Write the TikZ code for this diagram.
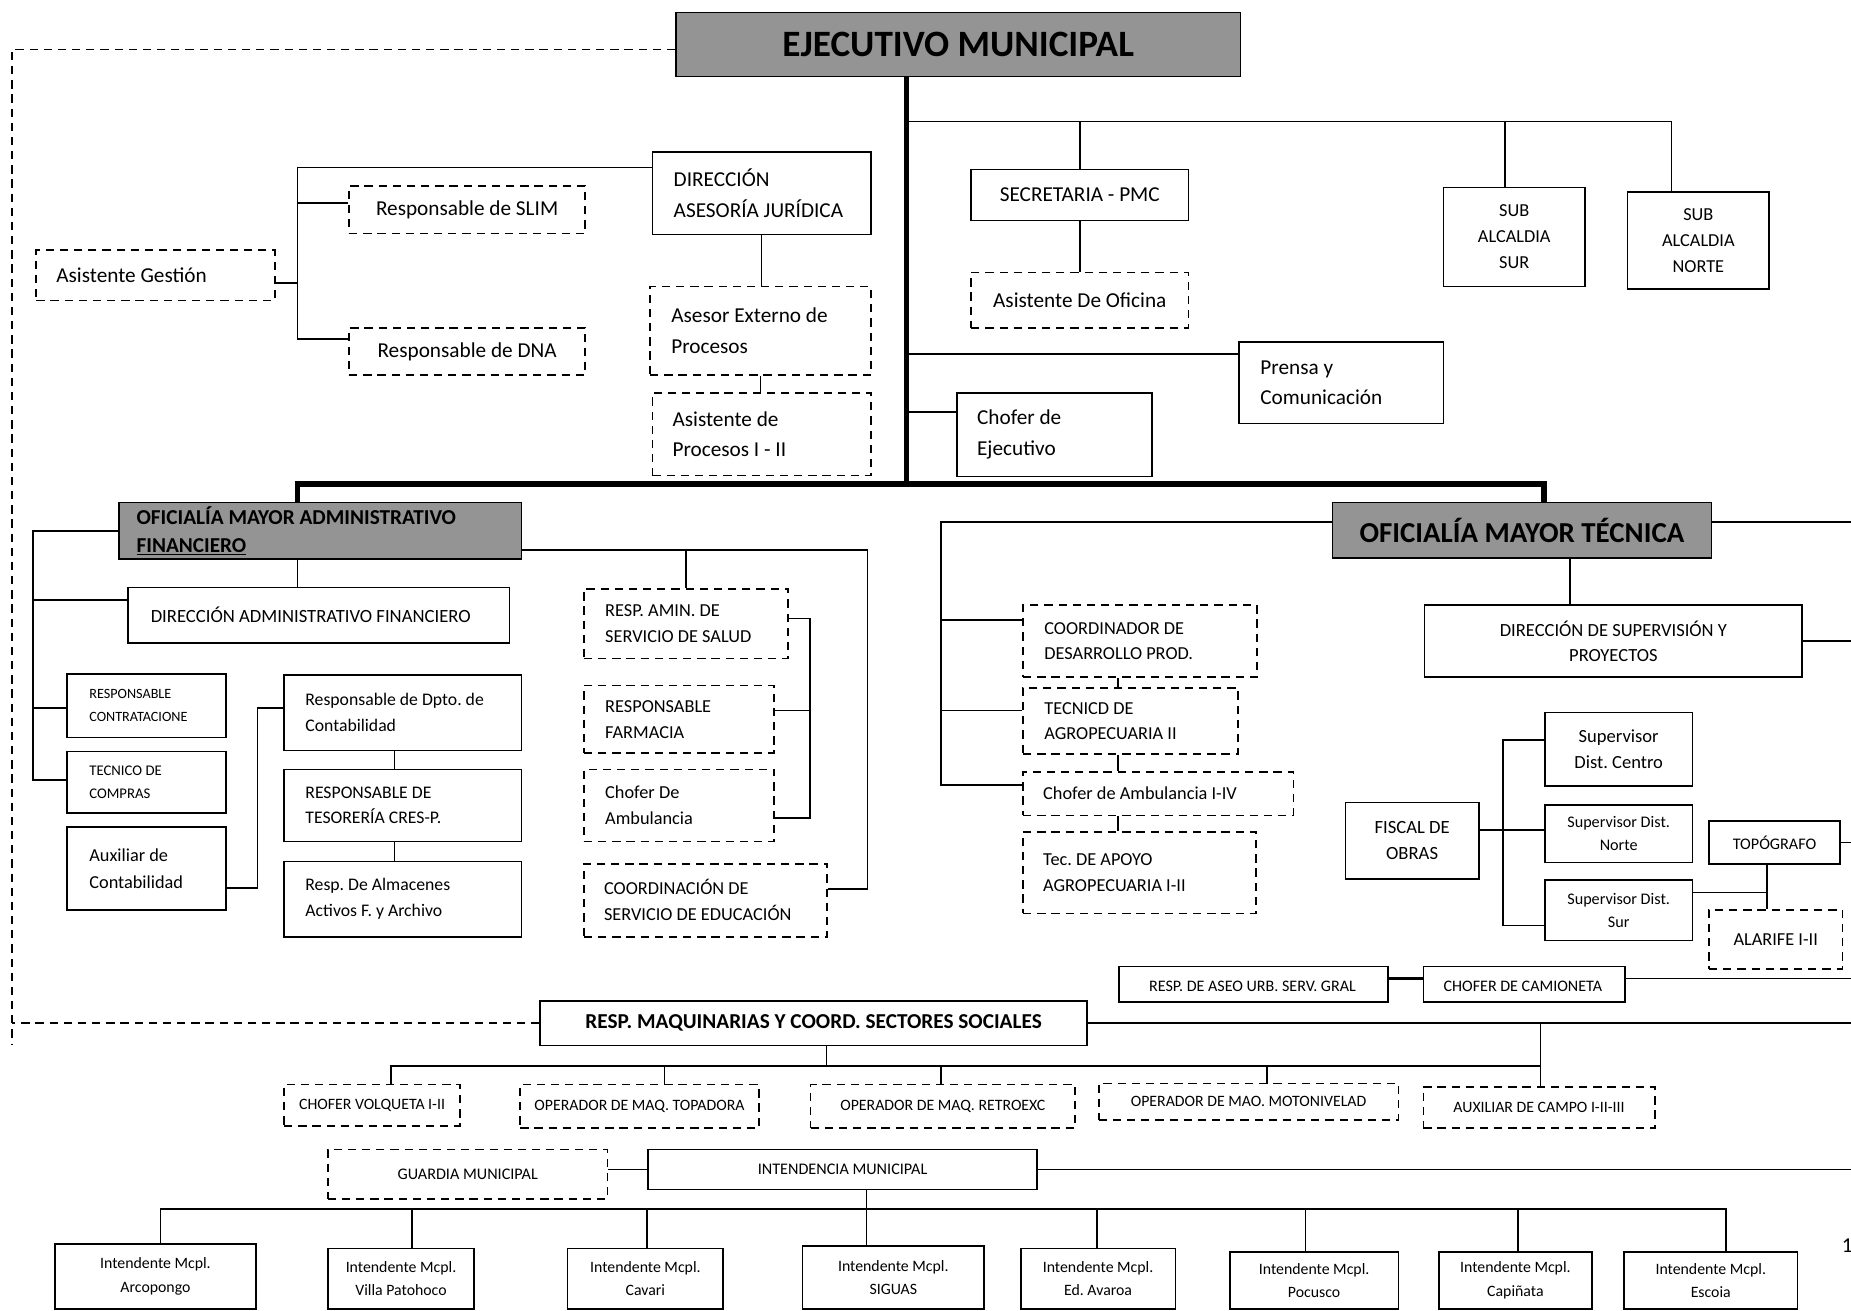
\documentclass[tikz,border=0pt]{standalone}
\usepackage{fontspec}
\setmainfont{Carlito}
\usetikzlibrary{calc}
\newcommand\fsz[2]{\fontsize{#1}{#2}\selectfont}
\newcommand\bxn[7]{\pgfmathsetmacro\bw{#5-#3}\pgfmathsetmacro\bh{#6-#4}%
\node[#1, minimum width=\bw pt, minimum height=\bh pt, anchor=north west] (#2) at (#3,#4) {#7};}
\tikzset{
 bx/.style={draw, line width=1.4pt, inner sep=0pt, align=center},
 dbx/.style={bx, dash pattern=on 7pt off 5pt},
 gbx/.style={bx, fill=black!42},
 lt/.code={\pgfmathsetmacro\tw{\bw-2*#1}\tikzset{inner xsep=#1pt, text width=\tw pt, align=flush left}},
 cn/.style={line width=1.4pt},
 mainln/.style={line width=4.5pt},
 dline/.style={line width=1.4pt, dash pattern=on 7pt off 5pt},
}
\begin{document}
\frenchspacing
\begin{tikzpicture}[x=1pt,y=-1pt]
\useasboundingbox (0,0) rectangle (1568,1110);
\fill[white] (0,0) rectangle (1568,1110);
% ---------- boxes ----------
\bxn{gbx, font=\fsz{31.5}{34}\bfseries}{eje}{572}{10}{1050}{64}{EJECUTIVO MUNICIPAL}
\bxn{bx, lt=18, font=\fsz{18}{26}}{dirj}{552}{128}{737}{198}{DIRECCIÓN\\ASESORÍA JURÍDICA}
\bxn{dbx, font=\fsz{18}{20}}{slim}{295}{157}{495}{197}{Responsable de SLIM}
\bxn{dbx, lt=17, font=\fsz{18}{20}}{ag}{30}{211}{232}{254}{Asistente Gestión}
\bxn{dbx, font=\fsz{18}{20}}{dna}{295}{277}{495}{317}{Responsable de DNA}
\bxn{dbx, lt=18, font=\fsz{18}{26}}{aext}{550}{242}{737}{317}{Asesor Externo de\\Procesos}
\bxn{dbx, lt=17, font=\fsz{18}{26}}{apro}{552}{332}{737}{402}{Asistente de\\Procesos I - II}
\bxn{bx, font=\fsz{18}{20}}{sec}{822}{143}{1006}{186}{SECRETARIA - PMC}
\bxn{dbx, font=\fsz{18}{20}}{aof}{822}{230}{1006}{277}{Asistente De Oficina}
\bxn{bx, font=\fsz{15.5}{22}}{sals}{1222}{158}{1342}{242}{SUB\\ALCALDIA\\SUR}
\bxn{bx, font=\fsz{15.5}{22}}{saln}{1378}{162}{1498}{244}{SUB\\ALCALDIA\\NORTE}
\bxn{bx, lt=18, font=\fsz{18}{26}}{prensa}{1049}{289}{1222}{358}{Prensa y\\Comunicación}
\bxn{bx, lt=17, font=\fsz{18}{26}}{chej}{810}{332}{975}{403}{Chofer de\\Ejecutivo}
\bxn{gbx, lt=15, font=\fsz{18}{23}\bfseries}{omaf}{100}{425}{441}{473}{OFICIALÍA MAYOR ADMINISTRATIVO\\\underline{FINANCIERO}}
\bxn{bx, lt=19, font=\fsz{15.8}{18}}{daf}{108}{497}{431}{544}{DIRECCIÓN ADMINISTRATIVO FINANCIERO}
\bxn{bx, lt=19, font=\fsz{12}{19}}{rc}{56}{570}{191}{624}{RESPONSABLE\\CONTRATACIONE}
\bxn{bx, lt=19, font=\fsz{12.5}{19}}{tc}{56}{636}{191}{688}{TECNICO DE\\COMPRAS}
\bxn{bx, lt=19, font=\fsz{15.5}{23}}{aux}{56}{700}{191}{770}{Auxiliar de\\Contabilidad}
\bxn{bx, lt=18, font=\fsz{15}{22}}{dp}{240}{571}{441}{635}{Responsable de Dpto. de\\Contabilidad}
\bxn{bx, lt=18, font=\fsz{15}{22}}{tes}{240}{651}{441}{712}{RESPONSABLE DE\\TESORERÍA CRES-P.}
\bxn{bx, lt=18, font=\fsz{15}{22}}{alm}{240}{729}{441}{793}{Resp. De Almacenes\\Activos F. y Archivo}
\bxn{dbx, lt=18, font=\fsz{15.5}{22}}{rsal}{494}{498}{667}{557}{RESP. AMIN. DE\\SERVICIO DE SALUD}
\bxn{dbx, lt=18, font=\fsz{15.5}{22}}{far}{494}{580}{655}{637}{RESPONSABLE\\FARMACIA}
\bxn{dbx, lt=18, font=\fsz{15.5}{22}}{cha}{494}{651}{655}{712}{Chofer De\\Ambulancia}
\bxn{dbx, lt=17, font=\fsz{15.5}{22}}{coe}{494}{731}{700}{793}{COORDINACIÓN DE\\SERVICIO DE EDUCACIÓN}
\bxn{gbx, font=\fsz{24.5}{28}\bfseries}{omt}{1128}{425}{1449}{472}{OFICIALÍA MAYOR TÉCNICA}
\bxn{dbx, lt=18, font=\fsz{15.5}{21}}{cdp}{866}{512}{1064}{573}{COORDINADOR DE\\DESARROLLO PROD.}
\bxn{dbx, lt=18, font=\fsz{15.5}{21}}{tag}{866}{582}{1048}{638}{TECNICD DE\\AGROPECUARIA II}
\bxn{dbx, lt=17, font=\fsz{15.5}{21}}{chai}{866}{653}{1095}{690}{Chofer de Ambulancia I-IV}
\bxn{dbx, lt=17, font=\fsz{15.5}{22}}{tap}{866}{704}{1063}{773}{Tec. DE APOYO\\AGROPECUARIA I-II}
\bxn{bx, font=\fsz{15.7}{21}}{dsp}{1206}{512}{1526}{573}{DIRECCIÓN DE SUPERVISIÓN Y\\PROYECTOS}
\bxn{bx, font=\fsz{15.7}{22}}{sc}{1308}{603}{1433}{665}{Supervisor\\Dist. Centro}
\bxn{bx, font=\fsz{13.7}{19}}{sn}{1308}{681}{1433}{730}{Supervisor Dist.\\Norte}
\bxn{bx, font=\fsz{13.7}{19}}{ss}{1308}{745}{1433}{796}{Supervisor Dist.\\Sur}
\bxn{bx, font=\fsz{15.8}{22}}{fo}{1139}{679}{1252}{744}{FISCAL DE\\OBRAS}
\bxn{bx, font=\fsz{13.7}{16}}{topo}{1447}{695}{1558}{731}{TOPÓGRAFO}
\bxn{dbx, font=\fsz{15.5}{16}}{alar}{1447}{770}{1560}{820}{ALARIFE I-II}
\bxn{bx}{aseo}{947}{818}{1175}{848}{}
\bxn{bx}{cam}{1205}{818}{1376}{848}{}
\begin{scope}
\clip (947,818) rectangle (1376,840);
\node[font=\fsz{13.6}{14}, anchor=base] (aseot) at (1061,840) {RESP. DE ASEO URB. SERV. GRAL};
\node[font=\fsz{13.6}{14}, anchor=base] (camt) at (1290,840) {CHOFER DE CAMIONETA};
\end{scope}
\bxn{bx, font=\fsz{18}{20}\bfseries}{rmq}{457}{847}{920}{885}{RESP. MAQUINARIAS Y COORD. SECTORES SOCIALES}
\bxn{dbx, font=\fsz{13.4}{14}}{cvq}{240}{918}{389}{953}{CHOFER VOLQUETA I-II}
\bxn{dbx, font=\fsz{13.4}{14}}{otp}{440}{918}{642}{955}{OPERADOR DE MAQ. TOPADORA}
\bxn{dbx, font=\fsz{13.4}{14}}{ort}{686}{918}{910}{955}{OPERADOR DE MAQ. RETROEXC}
\bxn{dbx, font=\fsz{13.4}{14}}{omo}{930}{917}{1184}{948}{OPERADOR DE MAO. MOTONIVELAD}
\bxn{dbx, font=\fsz{13.4}{14}}{acp}{1205}{920}{1401}{955}{AUXILIAR DE CAMPO I-II-III}
\bxn{dbx, font=\fsz{13.7}{14}}{gm}{277}{973}{514}{1015}{GUARDIA MUNICIPAL}
\bxn{bx, font=\fsz{13.7}{14}}{int}{548}{973}{878}{1007}{INTENDENCIA MUNICIPAL}
\bxn{bx, font=\fsz{13.4}{20}}{arc}{46}{1053}{216}{1108}{Intendente Mcpl.\\Arcopongo}
\bxn{bx, font=\fsz{13.4}{20}}{vp}{277}{1057}{401}{1108}{Intendente Mcpl.\\Villa Patohoco}
\bxn{bx, font=\fsz{13.4}{20}}{cav}{480}{1057}{612}{1108}{Intendente Mcpl.\\Cavari}
\bxn{bx, font=\fsz{13.4}{20}}{sig}{679}{1055}{833}{1108}{Intendente Mcpl.\\SIGUAS}
\bxn{bx, font=\fsz{13.4}{20}}{eda}{864}{1057}{995}{1108}{Intendente Mcpl.\\Ed. Avaroa}
\bxn{bx, font=\fsz{13.4}{20}}{poc}{1041}{1060}{1184}{1108}{Intendente Mcpl.\\Pocusco}
\bxn{bx, font=\fsz{13.4}{20}}{cap}{1218}{1060}{1348}{1108}{Intendente Mcpl.\\Capiñata}
\bxn{bx, font=\fsz{13.4}{20}}{esc}{1375}{1060}{1522}{1108}{Intendente Mcpl.\\Escoia}
\node[font=\fsz{18}{20}, anchor=west, inner sep=0pt] (pg) at (1560,1055) {1};
% ---------- coordinates ----------
\coordinate (sp) at (768,410);
\coordinate (bL) at (252,410);
\coordinate (bR) at (1308,410);
\coordinate (edge) at (1574,0);
\coordinate (lx) at (10,885);
% ---------- main spine ----------
\draw[mainln] (eje.south -| sp) -- (sp);
\draw[mainln] (omaf.north -| bL) -- (bL) -- (bR) -- (omt.north -| bR);
% top bus
\coordinate (tb) at (768,103);
\coordinate (tbe) at (1416,103);
\coordinate (tsv) at (1275,103);
\draw[cn] (tb) -- (tbe) -- (saln.north -| tbe);
\draw[cn] (sec.north) -- (sec.north |- tb);
\draw[cn] (tsv) -- (sals.north -| tsv);
\draw[cn] (sec.south) -- (aof.north);
\coordinate (prc) at ([yshift=-11pt]prensa.north west);
\draw[cn] (prc) -- (prc -| sp);
\coordinate (cec) at ([yshift=-17pt]chej.north west);
\draw[cn] (cec) -- (cec -| sp);
% legal cluster
\coordinate (ljc) at ([yshift=-14pt]dirj.north west);
\coordinate (lv) at (252,142);
\coordinate (slc) at ([yshift=-15pt]slim.north west);
\coordinate (dnc) at ([yshift=-10pt]dna.north west);
\coordinate (agc) at ([yshift=-29pt]ag.north east);
\draw[cn] (ljc) -- (lv) -- (lv |- dnc) -- (dnc);
\draw[cn] (slc) -- (slc -| lv);
\draw[cn] (agc) -- (agc -| lv);
\draw[cn] (dirj.south) -- (dirj.south |- aext.north);
\draw[cn] (aext.south) -- (aext.south |- apro.north);
% OMAF cluster
\coordinate (olc) at ([yshift=-25pt]omaf.north west);
\coordinate (lv2) at (28,450);
\coordinate (dac) at ([yshift=-11pt]daf.north west);
\coordinate (rcc) at ([yshift=-30pt]rc.north west);
\coordinate (tcc) at ([yshift=-25pt]tc.north west);
\draw[cn] (olc) -- (lv2) -- (lv2 |- tcc) -- (tcc);
\draw[cn] (dac) -- (dac -| lv2);
\draw[cn] (rcc) -- (rcc -| lv2);
\draw[cn] (omaf.south -| bL) -- (daf.north -| bL);
\coordinate (axc) at ([yshift=-52pt]aux.north east);
\coordinate (dpc) at ([yshift=-29pt]dp.north west);
\coordinate (mv) at (218,600);
\draw[cn] (axc) -- (axc -| mv) -- (mv) -- (dpc);
\draw[cn] ([xshift=-7pt]dp.south) -- ([xshift=-7pt]tes.north);
\draw[cn] ([xshift=-7pt]tes.south) -- ([xshift=-7pt]alm.north);
\coordinate (orc) at ([yshift=-41pt]omaf.north east);
\coordinate (rv) at (735,466);
\coordinate (coc) at ([yshift=-22pt]coe.north east);
\draw[cn] (orc) -- (rv) -- (rv |- coc) -- (coc);
\draw[cn] (rsal.north) -- (rsal.north |- orc);
\coordinate (rsc) at ([yshift=-26pt]rsal.north east);
\coordinate (bv) at (686,524);
\coordinate (frc) at ([yshift=-22pt]far.north east);
\coordinate (chc) at ([yshift=-42pt]cha.north east);
\draw[cn] (rsc) -- (bv) -- (bv |- chc) -- (chc);
\draw[cn] (frc) -- (frc -| bv);
% OMT cluster
\coordinate (mtc) at ([yshift=-17pt]omt.north west);
\coordinate (lv3) at (797,442);
\coordinate (cdc) at ([yshift=-13pt]cdp.north west);
\coordinate (tgc) at ([yshift=-20pt]tag.north west);
\coordinate (cic) at ([yshift=-12pt]chai.north west);
\draw[cn] (mtc) -- (lv3) -- (lv3 |- cic) -- (cic);
\draw[cn] (cdc) -- (cdc -| lv3);
\draw[cn] (tgc) -- (tgc -| lv3);
\coordinate (sv) at (947,0);
\draw[cn] (cdp.south -| sv) -- (tag.north -| sv);
\draw[cn] (tag.south -| sv) -- (chai.north -| sv);
\draw[cn] (chai.south -| sv) -- (tap.north -| sv);
\coordinate (mtr) at ([yshift=-17pt]omt.north east);
\draw[cn] (mtr) -- (mtr -| edge);
\coordinate (dv) at (1330,0);
\draw[cn] (omt.south -| dv) -- (dsp.north -| dv);
\draw[cn] (dsp.east) -- (dsp.east -| edge);
\coordinate (foc) at ([yshift=-24pt]fo.north east);
\coordinate (fv) at (1273,703);
\coordinate (scc) at ([yshift=-24pt]sc.north west);
\coordinate (snc) at ([yshift=-22pt]sn.north west);
\coordinate (ssc) at ([yshift=-39pt]ss.north west);
\draw[cn] (foc) -- (fv);
\draw[cn] (scc) -- (scc -| fv) -- (ssc -| fv) -- (ssc);
\draw[cn] (snc) -- (snc -| fv);
\coordinate (src) at ([yshift=-11pt]ss.north east);
\coordinate (tv) at (1497,0);
\draw[cn] (src) -- (src -| tv);
\draw[cn] (topo.south -| tv) -- (alar.north -| tv);
\draw[cn] (topo.east) -- (topo.east -| edge);
\coordinate (asc) at ([yshift=-11pt]aseo.north east);
\coordinate (cmc) at ([yshift=-11pt]cam.north west);
\draw[line width=2.6pt] (asc) -- (cmc);
\coordinate (cmr) at ([yshift=-11pt]cam.north east);
\draw[cn] (cmr) -- (cmr -| edge);
% dashed staff line
\coordinate (ejl) at ([yshift=-32pt]eje.north west);
\draw[dline] (ejl) -- (ejl -| lx) -- (lx);
\draw[dline] (rmq.west) -- (rmq.west -| lx);
% RMQ
\draw[cn] (rmq.east) -- (rmq.east -| edge);
\coordinate (hb) at (700,903);
\coordinate (d1) at (331,903);
\coordinate (d2) at (563,903);
\coordinate (d3) at (797,903);
\coordinate (d4) at (1073,903);
\coordinate (d5) at (1305,903);
\draw[cn] (rmq.south -| hb) -- (hb);
\draw[cn] (cvq.north -| d1) -- (d1) -- (d5);
\draw[cn] (d2) -- (otp.north -| d2);
\draw[cn] (d3) -- (ort.north -| d3);
\draw[cn] (d4) -- (omo.north -| d4);
\draw[cn] (rmq.east -| d5) -- (acp.north -| d5);
% Intendencia
\draw[cn] (int.west -| gm.east) -- (int.west);
\draw[cn] (int.east) -- (int.east -| edge);
\coordinate (e1) at (136,1024);
\coordinate (e2) at (349,1024);
\coordinate (e3) at (548,1024);
\coordinate (ib) at (734,1024);
\coordinate (e5) at (929,1024);
\coordinate (e6) at (1106,1024);
\coordinate (e7) at (1286,1024);
\coordinate (e8) at (1462,1024);
\draw[cn] (arc.north -| e1) -- (e1) -- (e8) -- (esc.north -| e8);
\draw[cn] (int.south -| ib) -- (sig.north -| ib);
\draw[cn] (e2) -- (vp.north -| e2);
\draw[cn] (e3) -- (cav.north -| e3);
\draw[cn] (e5) -- (eda.north -| e5);
\draw[cn] (e6) -- (poc.north -| e6);
\draw[cn] (e7) -- (cap.north -| e7);
\end{tikzpicture}
\end{document}
